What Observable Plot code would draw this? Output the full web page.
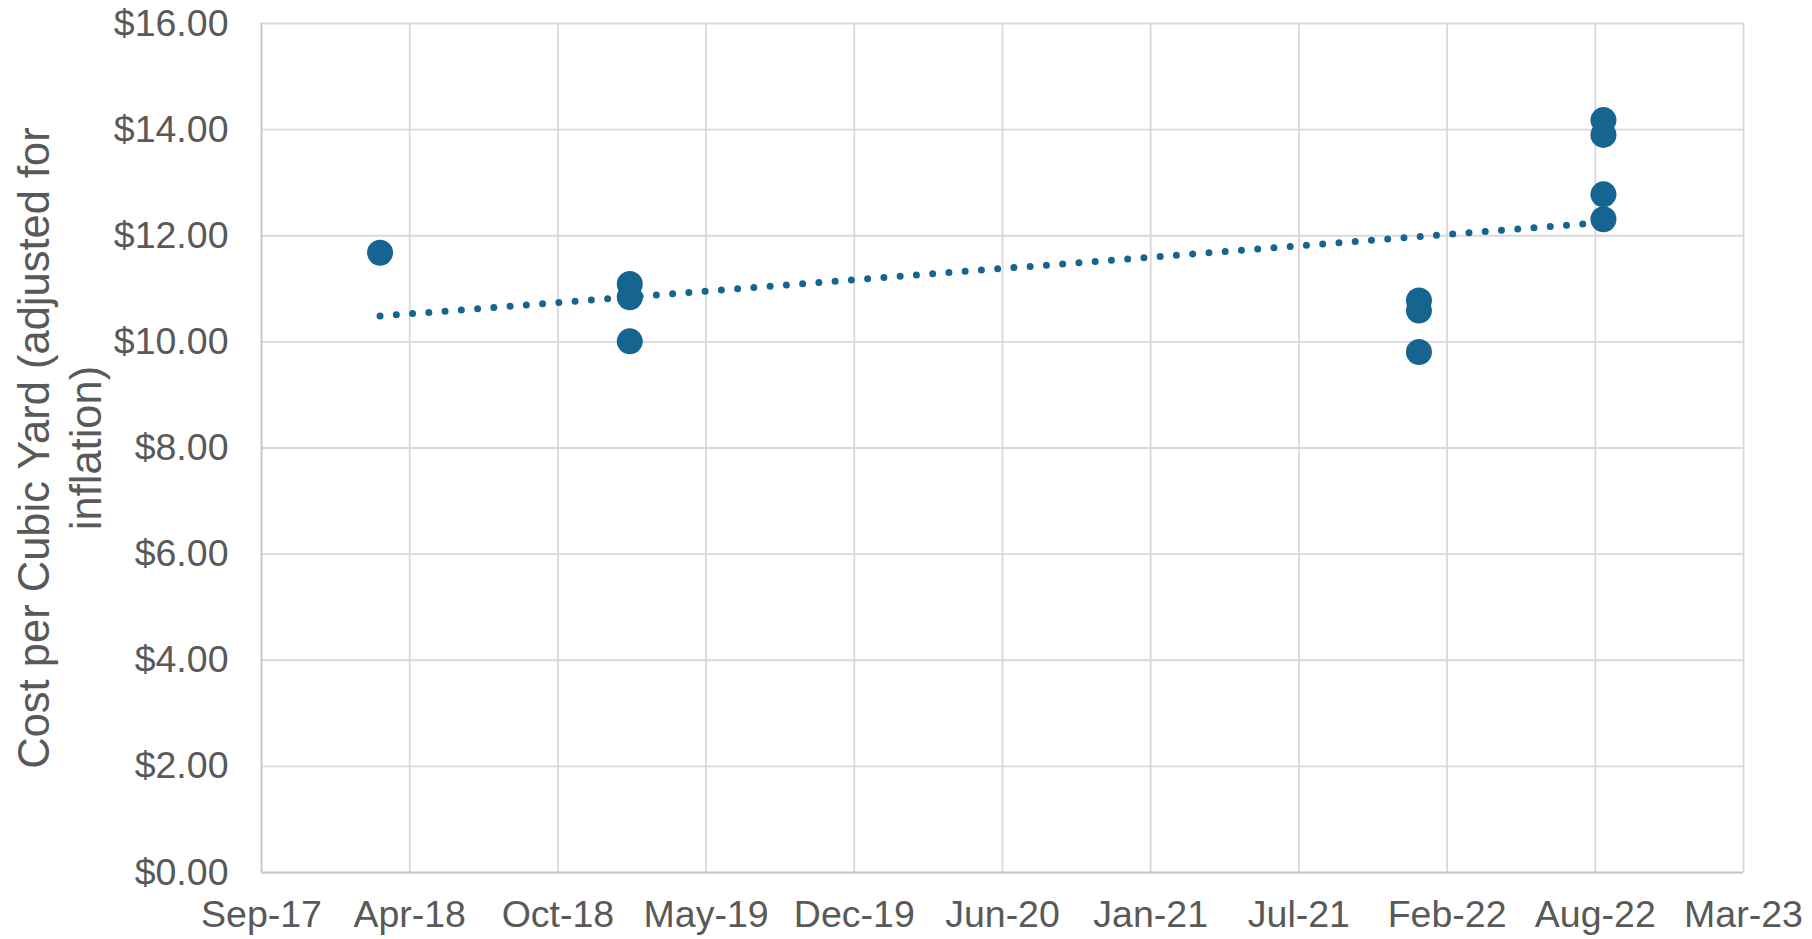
<!DOCTYPE html>
<html>
<head>
<meta charset="utf-8">
<script src="https://cdn.jsdelivr.net/npm/d3@7"></script>
<script src="https://cdn.jsdelivr.net/npm/@observablehq/plot@0.6"></script>
<style>
  html, body { margin: 0; padding: 0; background: #fff; }
</style>
</head>
<body>
<div id="chart"></div>
<script>
// Observation dates and inflation-adjusted cost per cubic yard
const dates = [
  "2018-03-01",
  "2019-02-01", "2019-02-01", "2019-02-01",
  "2022-01-01", "2022-01-01", "2022-01-01",
  "2022-09-07", "2022-09-07", "2022-09-07", "2022-09-07"
];
const costs = [
  11.68,
  11.09, 10.84, 10.01,
  10.78, 10.59, 9.81,
  14.18, 13.90, 12.78, 12.31
];

// Axis ticks (Excel date axis, 200-day major unit)
const xTickDates = [
  "2017-09-22", "2018-04-10", "2018-10-27", "2019-05-15", "2019-12-01",
  "2020-06-18", "2021-01-04", "2021-07-23", "2022-02-08", "2022-08-27", "2023-03-15"
];
const yTicks = [0, 2, 4, 6, 8, 10, 12, 14, 16];
const yTitle = "Cost per Cubic Yard (adjusted for\ninflation)";

const data = dates.map((d, i) => ({date: new Date(d), cost: costs[i]}));
const xTicks = xTickDates.map(d => new Date(d));

const color = "#166590";
const gridColor = "#d9d9d9";
const axisColor = "#c4c4c4";

const chart = Plot.plot({
  width: 1812,
  height: 939,
  marginLeft: 261,
  marginRight: 69,
  marginTop: 23,
  marginBottom: 67,
  style: {
    fontFamily: "'Liberation Sans', Arial, sans-serif",
    fontSize: "37.5px",
    color: "#595959",
    background: "#fff"
  },
  x: {
    type: "utc",
    domain: [xTicks[0], xTicks[xTicks.length - 1]],
    ticks: xTicks,
    tickFormat: d3.utcFormat("%b-%y"),
    tickSize: 0,
    tickPadding: 28,
    label: null
  },
  y: {
    domain: [0, 16],
    ticks: yTicks,
    tickFormat: d3.format("$.2f"),
    tickSize: 0,
    tickPadding: 33,
    label: null
  },
  marks: [
    Plot.ruleY(yTicks.slice(1), {stroke: gridColor, strokeWidth: 1.8}),
    Plot.ruleX(xTicks.slice(1), {stroke: gridColor, strokeWidth: 1.8}),
    Plot.ruleX([xTicks[0]], {stroke: axisColor, strokeWidth: 1.8}),
    Plot.ruleY([0], {stroke: axisColor, strokeWidth: 1.8}),
    Plot.linearRegressionY(data, {
      x: "date", y: "cost", ci: 0,
      stroke: color, strokeWidth: 7,
      strokeLinecap: "round", strokeDasharray: "0 16.3"
    }),
    Plot.dot(data, {x: "date", y: "cost", r: 13, fill: color, stroke: null}),
    Plot.text([yTitle], {
      text: d => d,
      frameAnchor: "left",
      rotate: -90,
      dx: -203,
      fontSize: 43.5,
      lineHeight: 1.2,
      textAnchor: "middle",
      lineAnchor: "middle",
      fill: "#595959"
    })
  ]
});

document.getElementById("chart").appendChild(chart);
</script>
</body>
</html>
